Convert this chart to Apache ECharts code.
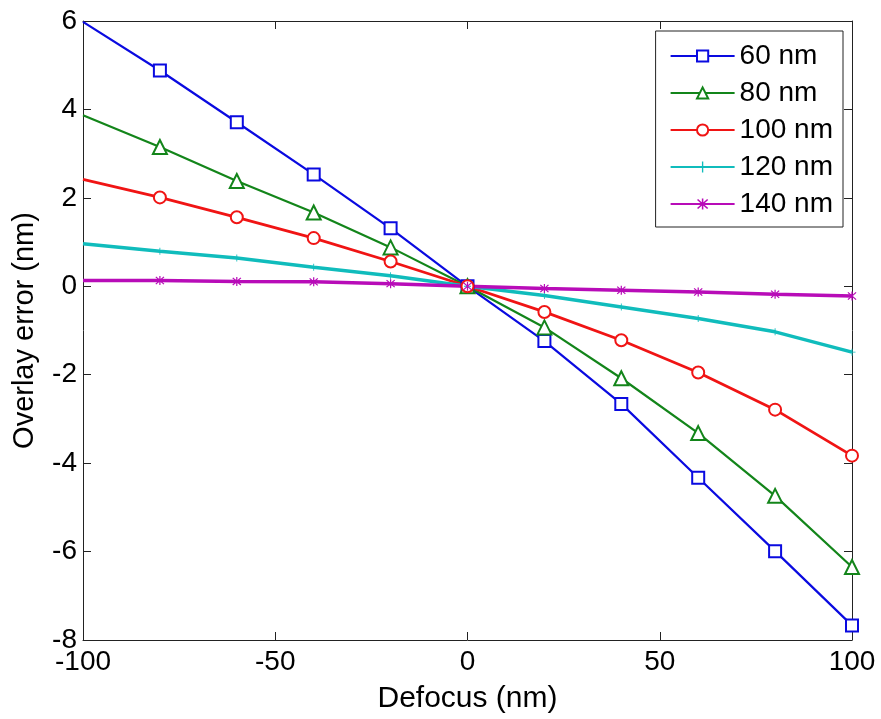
<!DOCTYPE html>
<html>
<head>
<meta charset="utf-8">
<script src="https://cdn.jsdelivr.net/npm/echarts@6/dist/echarts.min.js"></script>
<style>
  html, body { margin: 0; padding: 0; background: #fff; }
  #chart { width: 881px; height: 719px; }
</style>
</head>
<body>
<div id="chart"></div>
<script>
// Defocus positions (nm)
const defocus = [-100, -80, -60, -40, -20, 0, 20, 40, 60, 80, 100];

// Overlay error (nm) for each pitch
const err60  = [5.98, 4.88, 3.71, 2.53, 1.31, 0, -1.24, -2.66, -4.33, -5.99, -7.67];
const err80  = [3.87, 3.15, 2.38, 1.67, 0.88, 0, -0.93, -2.08, -3.32, -4.74, -6.35];
const err100 = [2.42, 2.01, 1.56, 1.09, 0.56, 0, -0.58, -1.22, -1.95, -2.79, -3.83];
const err120 = [0.96, 0.79, 0.64, 0.43, 0.24, 0, -0.21, -0.47, -0.73, -1.03, -1.49];
const err140 = [0.13, 0.13, 0.11, 0.10, 0.06, 0, -0.05, -0.09, -0.13, -0.18, -0.22];

const seriesNames = ['60 nm', '80 nm', '100 nm', '120 nm', '140 nm'];

// Axis ticks
const xTicks = { min: -100, max: 100, step: 50 };
const yTicks = { min: -8, max: 6, step: 2 };

const FONT = 'Liberation Sans';

const plusPath = 'path://M4.4,0H5.6V4.4H10V5.6H5.6V10H4.4V5.6H0V4.4H4.4Z';
const starPath = 'path://M4.4,0H5.6V10H4.4Z M0.6,1.45L1.45,0.6L9.4,8.55L8.55,9.4Z M8.55,0.6L9.4,1.45L1.45,9.4L0.6,8.55Z';

function pts(vals) {
  // first sample at the left edge is drawn without a marker
  return defocus.map((x, i) => i === 0 ? { value: [x, vals[i]], symbol: 'none' } : [x, vals[i]]);
}

function makeSeries(name, vals, color, width, symbol, size, border) {
  return {
    name: name,
    type: 'line',
    data: pts(vals),
    symbol: symbol,
    symbolSize: size,
    showAllSymbol: true,
    lineStyle: { color: color, width: width },
    itemStyle: { color: color, borderColor: color, borderWidth: border },
    emphasis: { disabled: true },
    animation: false,
    clip: false
  };
}

const chart = echarts.init(document.getElementById('chart'), null, { renderer: 'canvas' });

const axisCommon = {
  axisLine: { show: true, onZero: false, lineStyle: { color: '#222', width: 1 } },
  axisTick: { show: true, inside: true, length: 8, lineStyle: { color: '#222', width: 1 } },
  splitLine: { show: false }
};

chart.setOption({
  backgroundColor: '#fff',
  animation: false,
  grid: { left: 83, right: 29, top: 21, bottom: 75, containLabel: false },
  legend: {
    orient: 'vertical',
    right: 38,
    top: 31,
    padding: [11, 10, 9, 14],
    itemWidth: 64,
    itemHeight: 14,
    itemGap: 9,
    backgroundColor: '#fff',
    borderColor: '#222',
    borderWidth: 1,
    borderRadius: 0,
    textStyle: { fontFamily: FONT, fontSize: 28, color: '#000', lineHeight: 28, padding: [0, 0, 0, 0] },
    data: seriesNames
  },
  xAxis: [
    Object.assign({
      type: 'value', position: 'bottom',
      min: xTicks.min, max: xTicks.max, interval: xTicks.step,
      name: 'Defocus (nm)', nameLocation: 'middle', nameGap: 44,
      nameTextStyle: { fontFamily: FONT, fontSize: 30, color: '#000' },
      axisLabel: { fontFamily: FONT, fontSize: 28, color: '#000', margin: 8 }
    }, axisCommon),
    Object.assign({
      type: 'value', position: 'top',
      min: xTicks.min, max: xTicks.max, interval: xTicks.step,
      axisLabel: { show: false }
    }, axisCommon)
  ],
  yAxis: [
    Object.assign({
      type: 'value', position: 'left',
      min: yTicks.min, max: yTicks.max, interval: yTicks.step,
      name: 'Overlay error (nm)', nameLocation: 'middle', nameGap: 44,
      nameTextStyle: { fontFamily: FONT, fontSize: 29, color: '#000' },
      axisLabel: { fontFamily: FONT, fontSize: 28, color: '#000', margin: 6 }
    }, axisCommon),
    Object.assign({
      type: 'value', position: 'right',
      min: yTicks.min, max: yTicks.max, interval: yTicks.step,
      axisLabel: { show: false }
    }, axisCommon)
  ],
  series: [
    makeSeries(seriesNames[0], err60,  '#0a0ae0', 2.2, 'emptyRect',     12, 2),
    makeSeries(seriesNames[1], err80,  '#13851a', 2.2, 'emptyTriangle', 14, 2),
    makeSeries(seriesNames[2], err100, '#f01414', 2.8, 'emptyCircle',   12, 2),
    makeSeries(seriesNames[3], err120, '#10bcbc', 3.5, plusPath,        7,  0),
    makeSeries(seriesNames[4], err140, '#b80cb8', 3.5, starPath,        9,  0)
  ]
});
</script>
</body>
</html>
